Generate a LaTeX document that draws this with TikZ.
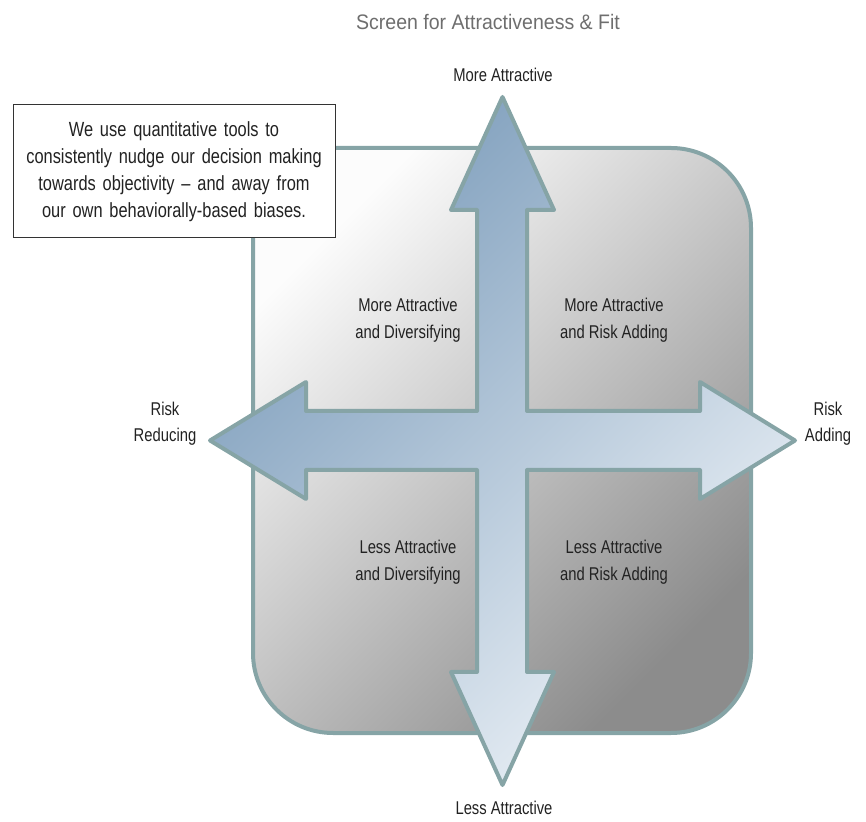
\documentclass[tikz,border=0pt]{standalone}
\usepackage{fontspec}
\setmainfont[FakeStretch=0.8]{Liberation Sans}
\newfontfamily\titlefont[FakeStretch=0.93]{Liberation Sans}
\newcommand\labelspacing[1]{\spaceskip=#1 plus 1pt minus 1pt\relax}
\definecolor{edgeteal}{HTML}{86A4A6}
\definecolor{arrowdark}{HTML}{7A9BBA}
\definecolor{arrowmid}{HTML}{B3C6D8}
\definecolor{arrowlight}{HTML}{EEF3F8}
\definecolor{fieldlight}{HTML}{FCFCFC}
\definecolor{fieldmid}{HTML}{E0E0E0}
\definecolor{fielddark}{HTML}{8C8C8C}
\definecolor{labelgray}{HTML}{222222}
\definecolor{titlegray}{HTML}{6E6E6E}
\definecolor{boxedge}{HTML}{333333}

\begin{document}
\begin{tikzpicture}[x=1pt, y=1pt,
  axislabel/.style={font=\fontsize{18.5}{26.5}\selectfont\labelspacing{4pt},
    text=labelgray, align=center, inner sep=0pt},
  quadlabel/.style={axislabel}]
  \useasboundingbox (0,0) rectangle (866,821);
  % rounded field behind the cross
  \draw[line width=4pt, draw=edgeteal, rounded corners=80pt,
    top color=fieldlight, middle color=fieldmid, bottom color=fielddark, shading angle=45]
    (253,88) rectangle (751,673);
  % four-way arrow
  \draw[line width=4pt, draw=edgeteal, line join=round,
    top color=arrowdark, middle color=arrowmid, bottom color=arrowlight, shading angle=45]
    (502.5,724) -- (554,611) -- (527,611) -- (527,410) -- (700,410) -- (700,439)
    -- (795,380.5) -- (700,322) -- (700,351) -- (527,351) -- (527,149) -- (554,149)
    -- (502.5,36) -- (451,149) -- (477,149) -- (477,351) -- (306,351) -- (306,322)
    -- (210,380.5) -- (306,439) -- (306,410) -- (477,410) -- (477,611) -- (451,611) -- cycle;
  % note box
  \node[draw=boxedge, fill=white, line width=1pt, minimum width=322pt, minimum height=133pt,
    text width=310pt, align=center, inner sep=0pt,
    font=\fontsize{20.5}{27}\selectfont\labelspacing{4.6pt}, text=labelgray] (note) at (174,649.5)
    {We use quantitative tools to\\ consistently nudge our decision making\\
     towards objectivity -- and away from\\ our own behaviorally-based biases.};
  % title and axis ends
  \node[font=\titlefont\fontsize{21}{25}\selectfont, text=titlegray, inner sep=0pt] (title) at (488,799)
    {Screen for Attractiveness \& Fit};
  \node[axislabel] (more) at (503,746) {More Attractive};
  \node[axislabel] (less) at (504,13) {Less Attractive};
  \node[axislabel] (reduce) at (165,397.5) {Risk\\ Reducing};
  \node[axislabel] (adding) at (828,397.5) {Risk\\ Adding};
  % quadrants
  \node[quadlabel] (qTL) at (408,501) {More Attractive\\ and Diversifying};
  \node[quadlabel] (qTR) at (614,501) {More Attractive\\ and Risk Adding};
  \node[quadlabel] (qBL) at (408,259) {Less Attractive\\ and Diversifying};
  \node[quadlabel] (qBR) at (614,259) {Less Attractive\\ and Risk Adding};
\end{tikzpicture}
\end{document}
